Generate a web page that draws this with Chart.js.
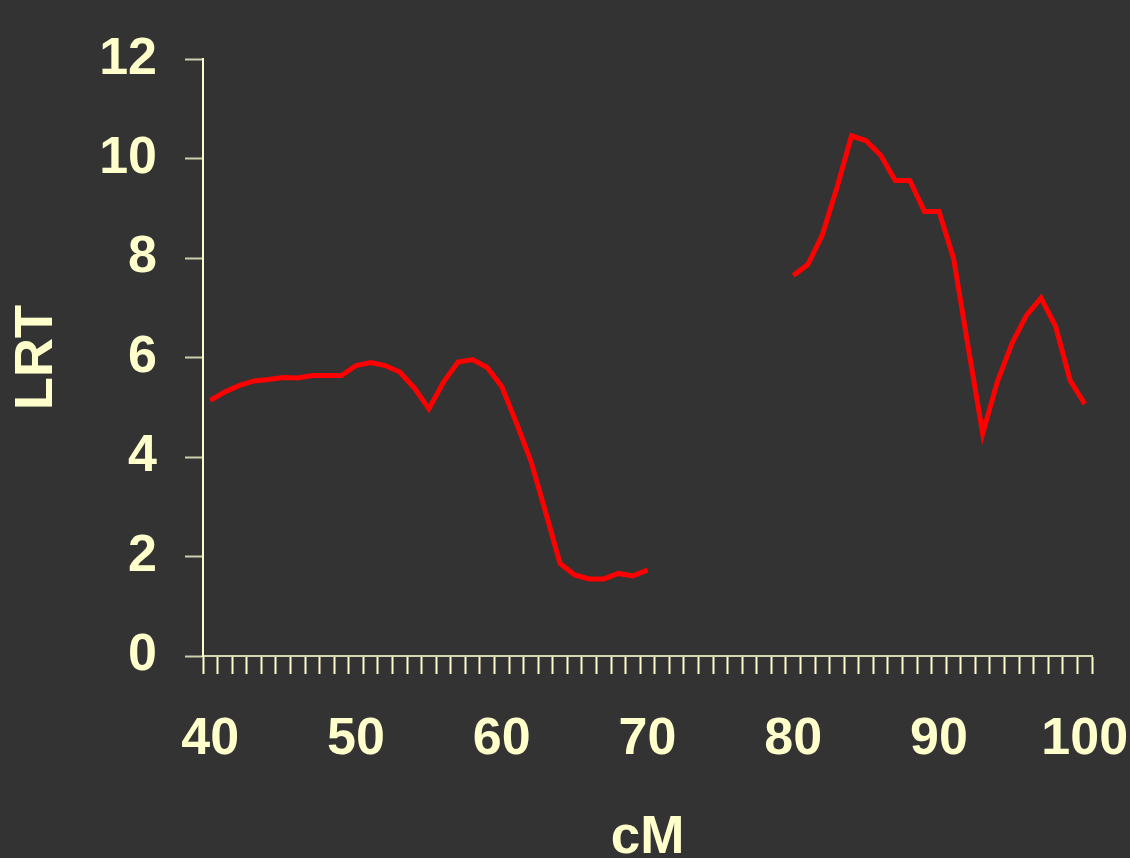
<!DOCTYPE html>
<html>
<head>
<meta charset="utf-8">
<script src="https://cdn.jsdelivr.net/npm/chart.js@4.4.1/dist/chart.umd.min.js"></script>
<style>
  html, body { margin: 0; padding: 0; background: #333333; overflow: hidden; }
  #wrap { width: 1130px; height: 858px; }
</style>
</head>
<body>
<div id="wrap"><canvas id="lrt"></canvas></div>
<script>
// cM positions 40..100, one category per cM
const cM = [];
for (let c = 40; c <= 100; c++) cM.push(c);

// LRT, 40..70 then gap, 80..100
const lrtLeft = [
  5.14, 5.31, 5.44, 5.53, 5.56, 5.60, 5.59, 5.64, 5.64, 5.64,
  5.84, 5.90, 5.84, 5.71, 5.39, 4.97, 5.51, 5.91, 5.96, 5.80,
  5.42, 4.69, 3.92, 2.90, 1.86, 1.63, 1.55, 1.55, 1.66, 1.61,
  1.73
];
const lrtRight = [
  7.65, 7.87, 8.47, 9.42, 10.46, 10.36, 10.07, 9.56, 9.56, 8.94,
  8.94, 8.00, 6.22, 4.47, 5.51, 6.28, 6.85, 7.20, 6.63, 5.54,
  5.07
];
const gap = [null, null, null, null, null, null, null, null, null]; // 71..79
const yTicks = [0, 2, 4, 6, 8, 10, 12];

const lrt = lrtLeft.concat(gap, lrtRight);

const cream = "#FFFFCC";
const font = { family: "'Liberation Sans', Arial, sans-serif", weight: "bold", size: 52 };

new Chart(document.getElementById("lrt"), {
  type: "line",
  data: {
    labels: cM,
    datasets: [
      {
        data: lrt,
        borderColor: "#FF0000",
        borderWidth: 5,
        pointRadius: 0,
        tension: 0,
        spanGaps: false,
      },
    ],
  },
  options: {
    responsive: true,
    maintainAspectRatio: false,
    animation: false,
    layout: { padding: { top: 58, right: 38, left: 0, bottom: 0 } },
    plugins: {
      legend: { display: false },
      tooltip: { enabled: false },
    },
    scales: {
      x: {
        type: "category",
        offset: true,
        grid: {
          offset: true,
          drawOnChartArea: false,
          drawTicks: true,
          tickLength: 18,
          tickWidth: 2,
          color: cream,
        },
        border: { display: true, color: "#D6D6B4", width: 2 },
        ticks: {
          autoSkip: false,
          maxRotation: 0,
          color: cream,
          font: font,
          padding: 34,
          callback: function (value, index) {
            const c = cM[index];
            return c % 10 === 0 ? String(c) : "";
          },
        },
        title: {
          display: true,
          text: "cM",
          color: cream,
          font: { family: font.family, weight: "bold", size: 53 },
          padding: { top: 0, bottom: -12 },
        },
        afterFit: function (scale) {
          scale.height = 202;
          // labels may hang past the plot edge, as in the original
          scale.paddingLeft = 0;
          scale.paddingRight = 0;
        },
      },
      y: {
        min: 0,
        max: 12,
        afterBuildTicks: function (scale) {
          scale.ticks = yTicks.map((v) => ({ value: v }));
        },
        grid: {
          drawOnChartArea: false,
          drawTicks: true,
          tickLength: 18,
          tickWidth: 2,
          color: "#CFCFB0",
        },
        border: { display: true, color: cream, width: 2 },
        ticks: {
          color: cream,
          font: font,
          padding: 28,
        },
        title: {
          display: true,
          text: "LRT",
          color: cream,
          font: { family: font.family, weight: "bold", size: 54 },
          padding: { top: 5, bottom: 0 },
        },
        afterFit: function (scale) {
          scale.width = 203;
        },
      },
    },
  },
});
</script>
</body>
</html>
